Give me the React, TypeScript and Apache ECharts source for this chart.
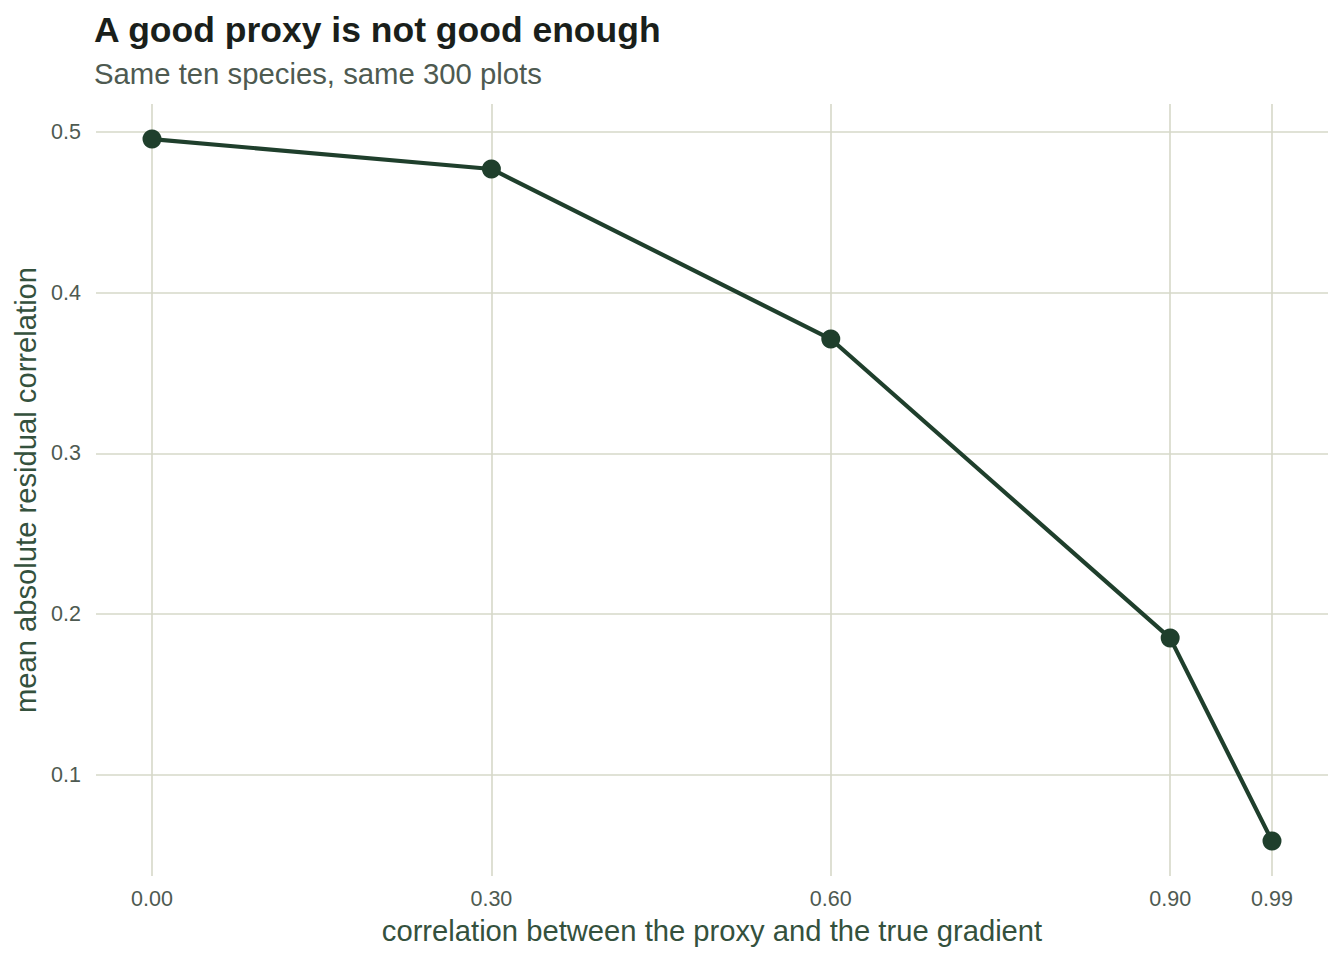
import React, { useEffect, useRef } from "react";
import * as echarts from "echarts";

const titleText = "A good proxy is not good enough";
const subtitleText = "Same ten species, same 300 plots";
const xName = "correlation between the proxy and the true gradient";
const yName = "mean absolute residual correlation";

const proxyCorr = [0.0, 0.3, 0.6, 0.9, 0.99];
const meanResid = [0.4956, 0.477, 0.3712, 0.1851, 0.0589];

const xTicks = [0.0, 0.3, 0.6, 0.9, 0.99];
const yTicks = [0.1, 0.2, 0.3, 0.4, 0.5];

const FONT = "'Liberation Sans', Arial, Helvetica, sans-serif";
const GRID = "#d6d8c8";
const LINE = "#1f3f2c";

export default function App() {
  const ref = useRef<HTMLDivElement>(null);
  useEffect(() => {
    if (!ref.current) return;
    const chart = echarts.init(ref.current, undefined, { renderer: "svg" });
    const xMin = Math.min(...proxyCorr);
    const xMax = Math.max(...proxyCorr);
    const xPad = (xMax - xMin) * 0.05;
    const yMin = Math.min(...meanResid);
    const yMax = Math.max(...meanResid);
    const yPad = (yMax - yMin) * 0.05;
    chart.setOption({
      animation: false,
      textStyle: { fontFamily: FONT },
      title: [
        {
          text: titleText,
          left: 89,
          top: 6.5,
          textStyle: { fontFamily: FONT, fontSize: 35.5, fontWeight: "bold", color: "#1a1f1b" },
        },
        {
          text: subtitleText,
          left: 89,
          top: 54,
          textStyle: { fontFamily: FONT, fontSize: 29.3, fontWeight: "normal", color: "#4e5a51" },
        },
      ],
      grid: { left: 96, right: 16, top: 104, bottom: 84, containLabel: false },
      xAxis: {
        type: "value",
        min: xMin - xPad,
        max: xMax + xPad,
        name: xName,
        nameLocation: "middle",
        nameGap: 40,
        nameTextStyle: { fontFamily: FONT, fontSize: 29.2, color: "#34513d" },
        axisLine: { show: false },
        axisTick: { show: false },
        splitLine: { show: false },
        axisLabel: {
          customValues: xTicks,
          formatter: (v: number) => v.toFixed(2),
          fontFamily: FONT,
          fontSize: 21.5,
          color: "#4e5a51",
          margin: 12,
        },
      },
      yAxis: {
        type: "value",
        min: yMin - yPad,
        max: yMax + yPad,
        name: yName,
        nameLocation: "middle",
        nameGap: 54,
        nameTextStyle: { fontFamily: FONT, fontSize: 29.2, color: "#34513d" },
        axisLine: { show: false },
        axisTick: { show: false },
        splitLine: { show: false },
        axisLabel: {
          customValues: yTicks,
          formatter: (v: number) => v.toFixed(1),
          fontFamily: FONT,
          fontSize: 21.5,
          color: "#4e5a51",
          margin: 15,
        },
      },
      series: [
        {
          type: "line",
          data: [],
          z: 1,
          silent: true,
          markLine: {
            silent: true,
            symbol: "none",
            label: { show: false },
            lineStyle: { color: GRID, width: 1.6, type: "solid" },
            emphasis: { disabled: true },
            data: [
              ...xTicks.map((v) => ({ xAxis: v })),
              ...yTicks.map((v) => ({ yAxis: v })),
            ],
          },
        },
        {
          type: "line",
          z: 5,
          data: proxyCorr.map((x, i) => [x, meanResid[i]]),
          symbol: "circle",
          symbolSize: 19,
          itemStyle: { color: LINE },
          lineStyle: { color: LINE, width: 4.2 },
        },
      ],
    });
    return () => chart.dispose();
  }, []);
  return <div ref={ref} style={{ width: 1344, height: 960, position: "absolute", left: 0, top: 0 }} />;
}
